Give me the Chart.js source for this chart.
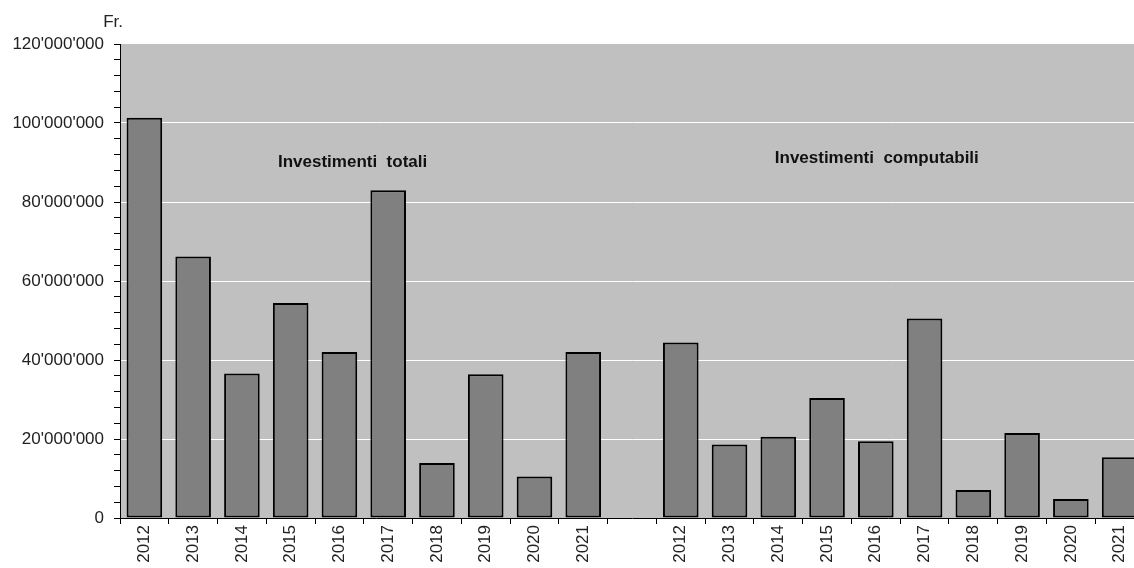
<!DOCTYPE html>
<html>
<head>
<meta charset="utf-8">
<script src="https://cdn.jsdelivr.net/npm/chart.js@4"></script>
<style>
  html, body { margin: 0; padding: 0; background: #fff; overflow: hidden; }
  #wrap { position: relative; width: 1144px; height: 568px; }
</style>
</head>
<body>
<div id="wrap"><canvas id="chart"></canvas></div>
<script>
/* ── DATA ── */
const years       = ['2012','2013','2014','2015','2016','2017','2018','2019','2020','2021'];
const totali      = [101.3, 66.2, 36.6, 54.4, 42.0, 83.0, 13.9, 36.4, 10.5, 42.0];
const computabili = [44.4, 18.6, 20.6, 30.4, 19.4, 50.5, 7.1, 21.5, 4.8, 15.4];
const groupNames  = ['Investimenti  totali', 'Investimenti  computabili'];
const unitLabel   = 'Fr.';

// one category axis: years, empty gap, years again (values in millions)
const labels = [...years, '', ...years];
const values = [...totali, null, ...computabili].map(v => v === null ? null : v * 1e6);

const FONT = 'Liberation Sans, Arial, sans-serif';
const fmt = v => String(v).replace(/\B(?=(\d{3})+(?!\d))/g, "'");

/* ── plot background + group captions ── */
const plotBg = {
  id: 'plotBg',
  beforeDraw(chart) {
    const { ctx, chartArea: a } = chart;
    ctx.save();
    ctx.fillStyle = '#C0C0C0';
    ctx.fillRect(a.left, a.top, a.right - a.left, a.bottom - a.top);
    ctx.restore();
  },
  afterDatasetsDraw(chart) {
    const { ctx, scales: { x, y } } = chart;
    ctx.save();
    ctx.fillStyle = '#111';
    ctx.font = 'bold 17px ' + FONT;
    ctx.textAlign = 'center';
    ctx.textBaseline = 'middle';
    ctx.fillText(groupNames[0], x.getPixelForValue(4.27), y.getPixelForValue(90e6));
    ctx.fillText(groupNames[1], x.getPixelForValue(15.02), y.getPixelForValue(91e6));
    // unit label above the axis
    ctx.font = '17px ' + FONT;
    ctx.textAlign = 'right';
    ctx.fillStyle = '#222';
    ctx.fillText(unitLabel, x.left + 3, 22);
    ctx.restore();
  }
};

new Chart(document.getElementById('chart'), {
  type: 'bar',
  data: {
    labels,
    datasets: [{
      data: values,
      backgroundColor: '#808080',
      borderColor: '#000',
      borderWidth: 2,
      borderSkipped: false,
      barPercentage: 0.73,
      categoryPercentage: 1,
    }]
  },
  options: {
    responsive: true, maintainAspectRatio: false,
    animation: false,
    layout: { padding: { top: 44, right: 0, left: 0, bottom: 0 } },
    plugins: { legend: { display: false }, tooltip: { enabled: false } },
    scales: {
      x: {
        afterFit: s => { s.height = 50; },
        grid: { offset: true, drawOnChartArea: false, tickLength: 6, color: '#000' },
        border: { display: true, color: '#000', width: 1 },
        ticks: {
          color: '#222', font: { family: FONT, size: 17 },
          minRotation: 90, maxRotation: 90, autoSkip: false, padding: 1,
        }
      },
      y: {
        min: 0, max: 120e6,
        afterFit: s => { s.width = 120; },
        grid: {
          color: c => (c.tick && c.tick.value % 20e6 === 0 && c.tick.value > 0 && c.tick.value < 120e6) ? '#FFFFFF' : 'rgba(0,0,0,0)',
          tickColor: '#000', tickLength: 6, lineWidth: 1,
        },
        border: { display: true, color: '#000', width: 1 },
        ticks: {
          stepSize: 4e6, autoSkip: false,
          color: '#222', font: { family: FONT, size: 17 }, padding: 10,
          callback: v => v % 20e6 === 0 ? fmt(v) : '',
        }
      }
    }
  },
  plugins: [plotBg]
});
</script>
</body>
</html>
